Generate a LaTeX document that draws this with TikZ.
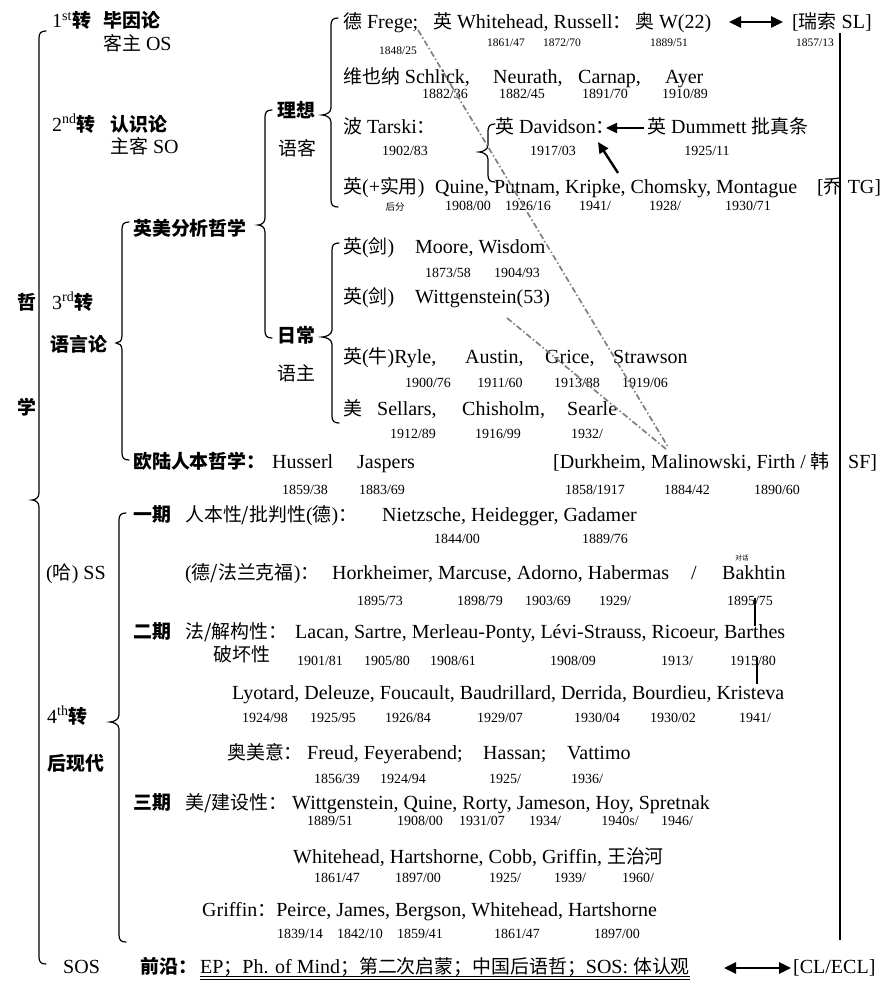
\documentclass[tikz,border=0pt]{standalone}
\usepackage{fontspec}
\setmainfont{Liberation Serif}
\newfontfamily\cjk[Scale=0.945]{Noto Sans CJK SC}
\newcommand\zh[1]{{\cjk #1}}
\usetikzlibrary{arrows.meta}
\newcommand\brc[5]{\draw[brcl] (#1+7,#2) .. controls (#1+2,#2) and (#1,#2+2) .. (#1,#2+7) -- (#1,#3-7) .. controls (#1,#3-2) and (#5+3,#3) .. (#5,#3) .. controls (#5+3,#3) and (#1,#3+2) .. (#1,#3+7) -- (#1,#4-7) .. controls (#1,#4-2) and (#1+2,#4) .. (#1+7,#4);}
\tikzset{
 tx/.style={anchor=base west, inner sep=0pt, font=\fontsize{20}{22}\selectfont},
 tb/.style={tx, font=\fontsize{20}{22}\selectfont\bfseries},
 yr/.style={anchor=base, inner sep=0pt, font=\fontsize{14}{15}\selectfont},
 yrs/.style={anchor=base, inner sep=0pt, font=\fontsize{11.5}{12}\selectfont},
 brcl/.style={line width=1.2pt, line cap=round},
 dl/.style={draw=black!50, line width=1.7pt, dash pattern=on 6pt off 2.5pt on 1.5pt off 2.5pt},
 dbl/.style={line width=2.6pt, {Triangle[length=12pt,width=11pt]}-{Triangle[length=12pt,width=11pt]}},
 arr/.style={line width=2.4pt, -{Triangle[length=11pt,width=10pt]}},
}
\begin{document}
\begin{tikzpicture}[x=1pt,y=-1pt]
\useasboundingbox (0,0) rectangle (881,982);
% ---------- left column ----------
\node[tb] (zhe) at (17,309) {\zh{哲}};
\node[tb] (xue) at (17,414) {\zh{学}};
\node[tx] (h1a) at (52,28) {1\textsuperscript{st}\zh{\bfseries 转}};
\node[tb] (h1b) at (103,28) {\zh{毕因论}};
\node[tx] (h1c) at (103,51) {\zh{客主} OS};
\node[tx] (h2a) at (52,131) {2\textsuperscript{nd}\zh{\bfseries 转}};
\node[tb] (h2b) at (110,131) {\zh{认识论}};
\node[tx] (h2c) at (110,153) {\zh{主客} SO};
\node[tx] (h3a) at (52,309) {3\textsuperscript{rd}\zh{\bfseries 转}};
\node[tb] (h3b) at (50,351) {\zh{语言论}};
\node[tx] (ss) at (46,579) {(\zh{哈}) SS};
\node[tx] (h4a) at (47,723) {4\textsuperscript{th}\zh{\bfseries 转}};
\node[tb] (h4b) at (47,770) {\zh{后现代}};
\node[tx] (sos) at (63,973) {SOS};
% ---------- analytic labels ----------
\node[tb] (yingmei) at (133,235) {\zh{英美分析哲学}};
\node[tb] (lixiang) at (277,117) {\zh{理想}};
\node[tx] (yuke) at (278,155) {\zh{语客}};
\node[tb] (richang) at (277,342) {\zh{日常}};
\node[tx] (yuzhu) at (277,380) {\zh{语主}};
% ---------- braces ----------
\brc{39}{31}{500}{964}{32}
\brc{122}{222}{343}{460}{116}
\brc{119}{513}{722}{942}{110}
\brc{265}{110}{225}{338}{258}
\brc{331}{18}{115}{207}{322}
\brc{332}{243}{337}{423}{322}
\brc{488}{124}{152}{182}{479}
\draw[line width=1.5pt] (840,33) -- (840,940);
% ---------- row 1 ----------
\node[tx] (r1a) at (343,29) {\zh{德} Frege;};
\node[tx] (r1b) at (433,29) {\zh{英} Whitehead, Russell\zh{：}};
\node[tx] (r1c) at (635,29) {\zh{奥} W(22)};
\node[tx] (r1d) at (792,29) {[\zh{瑞索} SL]};
\node[yrs] (y1a) at (398,55) {1848/25};
\node[yrs] (y1b) at (506,47) {1861/47};
\node[yrs] (y1c) at (562,47) {1872/70};
\node[yrs] (y1d) at (669,47) {1889/51};
\node[yrs] (y1e) at (815,47) {1857/13};
\coordinate (a1s) at (729,22);
\coordinate (a1e) at (783,22);
\draw[dbl] (a1s) -- (a1e);
% ---------- row 2 ----------
\node[tx] (r2a) at (343,83) {\zh{维也纳} Schlick,};
\node[tx] (r2b) at (493,83) {Neurath,};
\node[tx] (r2c) at (578,83) {Carnap,};
\node[tx] (r2d) at (665,83) {Ayer};
\node[yr] (y2a) at (445,99) {1882/36};
\node[yr] (y2b) at (522,99) {1882/45};
\node[yr] (y2c) at (605,99) {1891/70};
\node[yr] (y2d) at (685,99) {1910/89};
% ---------- row 3 ----------
\node[tx] (r3a) at (343,133) {\zh{波} Tarski\zh{：}};
\node[tx] (r3b) at (495,133) {\zh{英} Davidson\zh{：}};
\node[tx] (r3c) at (647,133) {\zh{英} Dummett \zh{批真条}};
\node[yr] (y3a) at (405,155) {1902/83};
\node[yr] (y3b) at (553,155) {1917/03};
\node[yr] (y3c) at (707,155) {1925/11};
\coordinate (a2s) at (644,128);
\coordinate (a2e) at (606,128);
\draw[arr] (a2s) -- (a2e);
\coordinate (a3s) at (618,173);
\coordinate (a3e) at (598,142);
\draw[arr] (a3s) -- (a3e);
% ---------- row 4 ----------
\node[tx] (r4a) at (343,193) {\zh{英}(+\zh{实用})};
\node[tx] (r4b) at (435,193) {Quine, Putnam, Kripke, Chomsky, Montague};
\node[tx] (r4c) at (817,193) {[\zh{乔} TG]};
\node[anchor=base, inner sep=0pt, font=\fontsize{10}{11}\selectfont] (y4z) at (395,210) {\zh{后分}};
\node[yr] (y4a) at (468,210) {1908/00};
\node[yr] (y4b) at (528,210) {1926/16};
\node[yr] (y4c) at (595,210) {1941/};
\node[yr] (y4d) at (665,210) {1928/};
\node[yr] (y4e) at (748,210) {1930/71};
% ---------- row 5 ----------
\node[tx] (r5a) at (343,253) {\zh{英}(\zh{剑})};
\node[tx] (r5b) at (415,253) {Moore, Wisdom};
\node[yr] (y5a) at (448,277) {1873/58};
\node[yr] (y5b) at (517,277) {1904/93};
% ---------- row 6 ----------
\node[tx] (r6a) at (343,303) {\zh{英}(\zh{剑})};
\node[tx] (r6b) at (415,303) {Wittgenstein(53)};
% ---------- row 7 ----------
\node[tx] (r7a) at (343,363) {\zh{英}(\zh{牛})Ryle,};
\node[tx] (r7b) at (465,363) {Austin,};
\node[tx] (r7c) at (545,363) {Grice,};
\node[tx] (r7d) at (613,363) {Strawson};
\node[yr] (y7a) at (428,387) {1900/76};
\node[yr] (y7b) at (500,387) {1911/60};
\node[yr] (y7c) at (577,387) {1913/88};
\node[yr] (y7d) at (645,387) {1919/06};
% ---------- row 8 ----------
\node[tx] (r8a) at (343,415) {\zh{美}};
\node[tx] (r8b) at (377,415) {Sellars,};
\node[tx] (r8c) at (462,415) {Chisholm,};
\node[tx] (r8d) at (567,415) {Searle};
\node[yr] (y8a) at (413,438) {1912/89};
\node[yr] (y8b) at (498,438) {1916/99};
\node[yr] (y8c) at (587,438) {1932/};
% ---------- row 9 ----------
\node[tb] (r9a) at (133,468) {\zh{欧陆人本哲学：}};
\node[tx] (r9b) at (272,468) {Husserl};
\node[tx] (r9c) at (357,468) {Jaspers};
\node[tx] (r9d) at (553,468) {[Durkheim, Malinowski, Firth / \zh{韩}};
\node[tx] (r9e) at (848,468) {SF]};
\node[yr] (y9a) at (305,494) {1859/38};
\node[yr] (y9b) at (382,494) {1883/69};
\node[yr] (y9c) at (595,494) {1858/1917};
\node[yr] (y9d) at (687,494) {1884/42};
\node[yr] (y9e) at (777,494) {1890/60};
% dash-dot links
\coordinate (dFrege) at (418,30);
\coordinate (dMal) at (668,447);
\coordinate (dWit) at (507,318);
\coordinate (dMal2) at (666,449);
\draw[dl] (dFrege) -- (dMal);
\draw[dl] (dWit) -- (dMal2);
% ---------- row 10 ----------
\node[tb] (r10a) at (133,521) {\zh{一期}};
\node[tx] (r10b) at (185,521) {\zh{人本性/批判性}(\zh{德})\zh{：}};
\node[tx] (r10c) at (382,521) {Nietzsche, Heidegger, Gadamer};
\node[yr] (y10a) at (457,543) {1844/00};
\node[yr] (y10b) at (605,543) {1889/76};
% ---------- row 11 ----------
\node[tx] (r11a) at (185,579) {(\zh{德/法兰克福})\zh{：}};
\node[tx] (r11b) at (332,579) {Horkheimer, Marcuse, Adorno, Habermas};
\node[tx] (r11c) at (691,579) {/};
\node[tx] (r11d) at (722,579) {Bakhtin};
\node[anchor=base, inner sep=0pt, font=\fontsize{7}{8}\selectfont] (duihua) at (742,560) {\zh{对话}};
\node[yr] (y11a) at (380,605) {1895/73};
\node[yr] (y11b) at (480,605) {1898/79};
\node[yr] (y11c) at (548,605) {1903/69};
\node[yr] (y11d) at (615,605) {1929/};
\node[yr] (y11e) at (750,605) {1895/75};
% ---------- row 12 ----------
\node[tb] (r12a) at (133,638) {\zh{二期}};
\node[tx] (r12b) at (185,638) {\zh{法/解构性：}};
\node[tx] (r12c) at (295,638) {Lacan, Sartre, Merleau-Ponty, Lévi-Strauss, Ricoeur, Barthes};
\node[tx] (r12d) at (213,661) {\zh{破坏性}};
\node[yr] (y12a) at (320,665) {1901/81};
\node[yr] (y12b) at (387,665) {1905/80};
\node[yr] (y12c) at (453,665) {1908/61};
\node[yr] (y12d) at (573,665) {1908/09};
\node[yr] (y12e) at (677,665) {1913/};
\node[yr] (y12f) at (753,665) {1915/80};
\coordinate (bk1) at (755,598);
\coordinate (bk2) at (755,626);
\coordinate (bk3) at (757,657);
\coordinate (bk4) at (757,684);
\draw[line width=1.2pt] (bk1) -- (bk2);
\draw[line width=1.2pt] (bk3) -- (bk4);
% ---------- row 13 ----------
\node[tx] (r13) at (232,699) {Lyotard, Deleuze, Foucault, Baudrillard, Derrida, Bourdieu, Kristeva};
\node[yr] (y13a) at (265,722) {1924/98};
\node[yr] (y13b) at (333,722) {1925/95};
\node[yr] (y13c) at (408,722) {1926/84};
\node[yr] (y13d) at (500,722) {1929/07};
\node[yr] (y13e) at (597,722) {1930/04};
\node[yr] (y13f) at (673,722) {1930/02};
\node[yr] (y13g) at (755,722) {1941/};
% ---------- row 14 ----------
\node[tx] (r14a) at (227,759) {\zh{奥美意：}};
\node[tx] (r14b) at (307,759) {Freud, Feyerabend;};
\node[tx] (r14c) at (483,759) {Hassan;};
\node[tx] (r14d) at (567,759) {Vattimo};
\node[yr] (y14a) at (337,783) {1856/39};
\node[yr] (y14b) at (403,783) {1924/94};
\node[yr] (y14c) at (505,783) {1925/};
\node[yr] (y14d) at (587,783) {1936/};
% ---------- row 15 ----------
\node[tb] (r15a) at (133,809) {\zh{三期}};
\node[tx] (r15b) at (185,809) {\zh{美/建设性：}};
\node[tx] (r15c) at (292,809) {Wittgenstein, Quine, Rorty, Jameson, Hoy, Spretnak};
\node[yr] (y15a) at (330,825) {1889/51};
\node[yr] (y15b) at (420,825) {1908/00};
\node[yr] (y15c) at (482,825) {1931/07};
\node[yr] (y15d) at (545,825) {1934/};
\node[yr] (y15e) at (620,825) {1940s/};
\node[yr] (y15f) at (677,825) {1946/};
% ---------- row 16 ----------
\node[tx] (r16) at (293,863) {Whitehead, Hartshorne, Cobb, Griffin, \zh{王治河}};
\node[yr] (y16a) at (337,882) {1861/47};
\node[yr] (y16b) at (418,882) {1897/00};
\node[yr] (y16c) at (505,882) {1925/};
\node[yr] (y16d) at (570,882) {1939/};
\node[yr] (y16e) at (638,882) {1960/};
% ---------- row 17 ----------
\node[tx] (r17) at (202,916) {Griffin\zh{：}Peirce, James, Bergson, Whitehead, Hartshorne};
\node[yr] (y17a) at (300,938) {1839/14};
\node[yr] (y17b) at (360,938) {1842/10};
\node[yr] (y17c) at (420,938) {1859/41};
\node[yr] (y17d) at (517,938) {1861/47};
\node[yr] (y17e) at (617,938) {1897/00};
% ---------- row 18 ----------
\node[tb] (fr1) at (140,973) {\zh{前沿：}};
\node[tx] (fr2) at (200,973) {EP\zh{；}Ph. of Mind\zh{；第二次启蒙；中国后语哲；}SOS: \zh{体认观}};
\draw[line width=0.8pt] ([yshift=-3.5pt]fr2.base west) -- ([yshift=-3.5pt]fr2.base east);
\draw[line width=0.8pt] ([yshift=-6.5pt]fr2.base west) -- ([yshift=-6.5pt]fr2.base east);
\coordinate (a4s) at (724,968);
\coordinate (a4e) at (791,968);
\draw[dbl] (a4s) -- (a4e);
\node[tx] (r18d) at (793,973) {[CL/ECL]};
\end{tikzpicture}
\end{document}
